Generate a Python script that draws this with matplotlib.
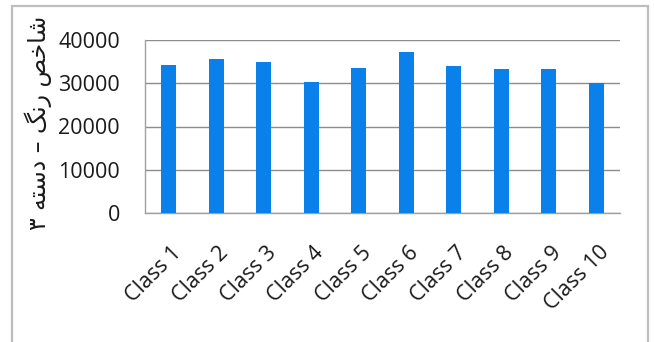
import matplotlib
matplotlib.use("Agg")
import matplotlib.pyplot as plt
from matplotlib.patches import Rectangle
from matplotlib.transforms import ScaledTranslation

categories = ["Class 1", "Class 2", "Class 3", "Class 4", "Class 5",
              "Class 6", "Class 7", "Class 8", "Class 9", "Class 10"]
values = [34200, 35500, 34800, 30300, 33500, 37200, 33900, 33200, 33200, 30100]
y_ticks = [0, 10000, 20000, 30000, 40000]

# Persian axis title "شاخص رنگ – دسته ۳", written in shaped presentation
# forms and visual order so it renders correctly without a bidi engine.
y_title = "\u06F3 \uFEEA\uFE98\uFEB3\uFEA9 \u2013 \uFB93\uFEE7\uFEAD \uFEBA\uFEA7\uFE8E\uFEB7"

W, H = 654, 342
fig = plt.figure(figsize=(W / 100, H / 100), dpi=100)
fig.patch.set_facecolor("white")

# outer chart frame
fig.add_artist(Rectangle((12 / W, -0.05), (648 - 12) / W, (H - 6) / H + 0.05,
                         transform=fig.transFigure, fill=False,
                         edgecolor="#BDBDBD", linewidth=1.6))

ax = fig.add_axes([145 / W, (H - 213) / H, 475 / W, 173 / H])
x = list(range(len(categories)))
ax.bar(x, values, width=0.32, color="#0A80EA", zorder=3)

ax.set_xlim(-0.5, len(categories) - 0.5)
ax.set_ylim(0, 40000)
ax.set_yticks(y_ticks)
ax.set_yticklabels([str(v) for v in y_ticks], family="Open Sans", fontsize=15.5)
ax.yaxis.grid(True, color="#8C8C8C", linewidth=1.0, zorder=0)
ax.set_axisbelow(True)

for s in ["top", "right"]:
    ax.spines[s].set_visible(False)
ax.spines["left"].set_color("#A0A0A0")
ax.spines["bottom"].set_color("#A0A0A0")
ax.spines["left"].set_linewidth(1.0)
ax.spines["bottom"].set_linewidth(1.0)

ax.tick_params(axis="both", length=0, colors="#1A1A1A")
ax.tick_params(axis="y", pad=18)
ax.set_xticks(x)
ax.set_xticklabels(categories, rotation=45, ha="right", rotation_mode="anchor",
                   family="Open Sans", fontsize=15.5)
ax.tick_params(axis="x", pad=21)
shift = ScaledTranslation(2 / 100, 0, fig.dpi_scale_trans)
for lbl in ax.get_xticklabels():
    lbl.set_transform(lbl.get_transform() + shift)

fig.text(38 / W, (H - 123) / H, y_title, rotation=90, ha="center", va="center",
         family=["DejaVu Sans"], fontsize=17, color="#1A1A1A")

fig.savefig("out.png", dpi=100, facecolor="white")
